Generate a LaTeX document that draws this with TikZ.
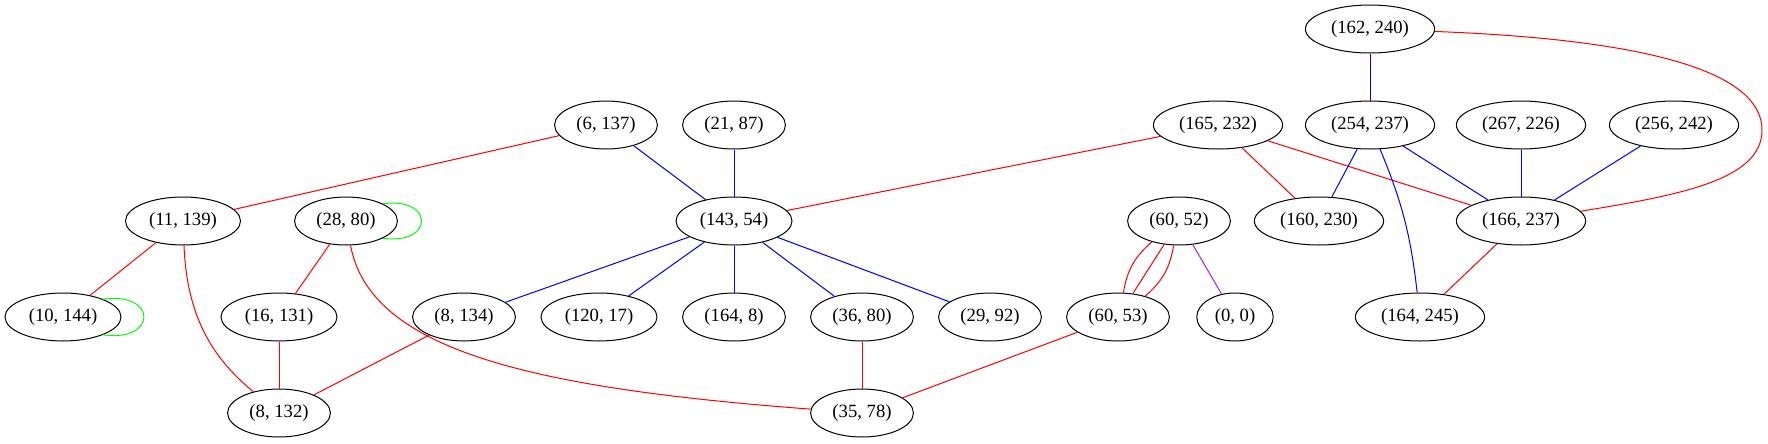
\documentclass[tikz,border=0pt]{standalone}
\usepackage{fontspec}
\setmainfont{Liberation Serif}
\usetikzlibrary{shapes.geometric}
\definecolor{edgepurple}{HTML}{A020F0}

\begin{document}
\begin{tikzpicture}[x=0.75pt,y=0.75pt,
  vertex/.style={draw,ellipse,line width=0.75pt,minimum height=36pt,
    inner xsep=5.1pt,inner ysep=1pt,font=\fontsize{14pt}{16pt}\selectfont},
  redline/.style={draw=red,line width=0.75pt},
  blueline/.style={draw=blue,line width=0.75pt},
  greenline/.style={draw=green,line width=0.75pt},
  purpleline/.style={draw=edgepurple,line width=0.75pt}]
  \path[use as bounding box,fill=white] (0,0) rectangle (1768,-443);

  \node[vertex] (p162x240) at (1370,-29) {(162, 240)};
  \node[vertex] (p6x137) at (606,-125) {(6, 137)};
  \node[vertex] (p21x87) at (734,-125) {(21, 87)};
  \node[vertex] (p165x232) at (1218,-125) {(165, 232)};
  \node[vertex] (p254x237) at (1370,-125) {(254, 237)};
  \node[vertex] (p267x226) at (1521,-125) {(267, 226)};
  \node[vertex] (p256x242) at (1674,-125) {(256, 242)};
  \node[vertex] (p11x139) at (183,-221) {(11, 139)};
  \node[vertex] (p28x80) at (346,-221) {(28, 80)};
  \node[vertex] (p143x54) at (734,-221) {(143, 54)};
  \node[vertex] (p60x52) at (1179,-221) {(60, 52)};
  \node[vertex] (p160x230) at (1319,-221) {(160, 230)};
  \node[vertex] (p166x237) at (1521,-221) {(166, 237)};
  \node[vertex] (p10x144) at (63,-317) {(10, 144)};
  \node[vertex] (p16x131) at (279,-317) {(16, 131)};
  \node[vertex] (p8x134) at (464,-317) {(8, 134)};
  \node[vertex] (p120x17) at (599,-317) {(120, 17)};
  \node[vertex] (p164x8) at (734,-317) {(164, 8)};
  \node[vertex] (p36x80) at (862,-317) {(36, 80)};
  \node[vertex] (p29x92) at (990,-317) {(29, 92)};
  \node[vertex] (p60x53) at (1118,-317) {(60, 53)};
  \node[vertex] (p0x0) at (1235,-317) {(0, 0)};
  \node[vertex] (p164x245) at (1420,-317) {(164, 245)};
  \node[vertex] (p8x132) at (279,-413) {(8, 132)};
  \node[vertex] (p35x78) at (862,-413) {(35, 78)};

  \draw[redline] (p6x137) -- (p11x139);
  \draw[blueline] (p6x137) -- (p143x54);
  \draw[blueline] (p21x87) -- (p143x54);
  \draw[redline] (p165x232) -- (p143x54);
  \draw[redline] (p165x232) -- (p160x230);
  \draw[redline] (p165x232) -- (p166x237);
  \draw[blueline] (p162x240) -- (p254x237);
  \draw[redline] (p162x240) .. controls (1660,-40) and (1762,-75) .. (1762,-130)
    .. controls (1762,-180) and (1680,-195) .. (p166x237);
  \draw[blueline] (p254x237) -- (p160x230);
  \draw[blueline] (p254x237) -- (p166x237);
  \draw[blueline] (p254x237) to[bend left=8] (p164x245);
  \draw[blueline] (p267x226) -- (p166x237);
  \draw[blueline] (p256x242) -- (p166x237);
  \draw[redline] (p166x237) -- (p164x245);

  \draw[redline] (p11x139) -- (p10x144);
  \draw[redline] (p11x139) .. controls (187,-320) and (215,-360) .. (p8x132);
  \draw[greenline] (p10x144.24) .. controls +(8:55) and +(-8:55) .. (p10x144.-24);
  \draw[greenline] (p28x80.25) .. controls +(8:52) and +(-8:52) .. (p28x80.-25);
  \draw[redline] (p28x80) -- (p16x131);
  \draw[redline] (p28x80) .. controls (370,-350) and (530,-388) .. (p35x78);
  \draw[redline] (p16x131) -- (p8x132);
  \draw[redline] (p8x134) -- (p8x132);

  \draw[blueline] (p143x54) -- (p8x134);
  \draw[blueline] (p143x54) -- (p120x17);
  \draw[blueline] (p143x54) -- (p164x8);
  \draw[blueline] (p143x54) -- (p36x80);
  \draw[blueline] (p143x54) -- (p29x92);
  \draw[redline] (p36x80) -- (p35x78);
  \draw[redline] (p60x53) -- (p35x78);

  \draw[redline] (p60x52) to[bend right=20] (p60x53);
  \draw[redline] (p60x52) -- (p60x53);
  \draw[redline] (p60x52) to[bend left=20] (p60x53);
  \draw[purpleline] (p60x52) -- (p0x0);
\end{tikzpicture}
\end{document}
